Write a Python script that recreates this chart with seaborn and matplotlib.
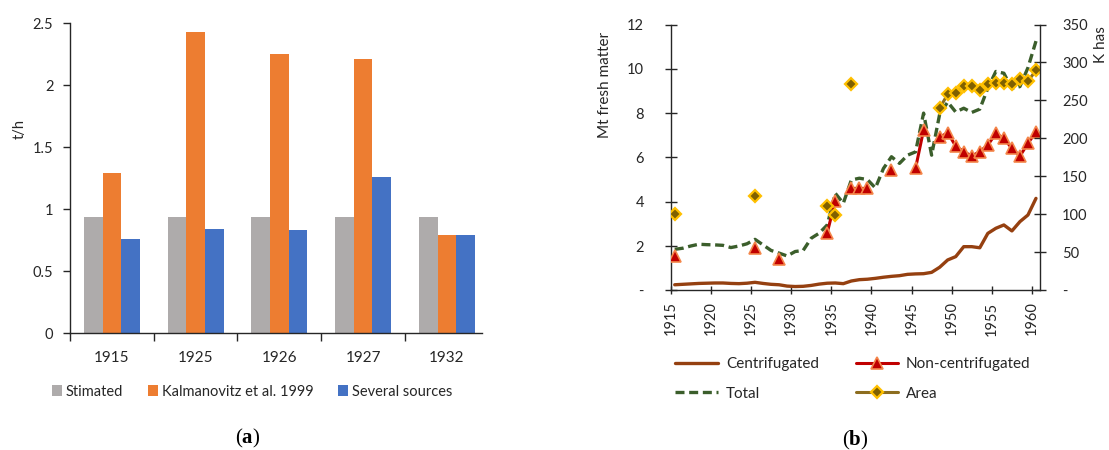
import numpy as np
import pandas as pd
import matplotlib
matplotlib.use("Agg")
import matplotlib.pyplot as plt
import seaborn as sns
from matplotlib.patches import Patch
from matplotlib.lines import Line2D

W, H = 1109, 450
nan = np.nan

# ---- (a) yields, t/h ----
yield_years = ["1915", "1925", "1926", "1927", "1932"]
stimated = [0.94, 0.94, 0.94, 0.94, 0.94]
kalmanovitz = [1.29, 2.43, 2.25, 2.21, 0.79]
several_sources = [0.76, 0.84, 0.83, 1.26, 0.79]
source_labels = ["Stimated", "Kalmanovitz et al. 1999", "Several sources"]

# ---- (b) production (Mt fresh matter) and area (K has) ----
years = list(range(1915, 1961))
centrifugated = [
    0.25, 0.27, 0.29, 0.31, 0.32, 0.33, 0.33, 0.31, 0.30, 0.32,
    0.36, 0.31, 0.27, 0.25, 0.19, 0.17, 0.18, 0.22, 0.28, 0.32,
    0.33, 0.30, 0.42, 0.48, 0.50, 0.54, 0.59, 0.63, 0.66, 0.72,
    0.74, 0.75, 0.81, 1.04, 1.37, 1.52, 1.97, 1.97, 1.92, 2.57,
    2.80, 2.95, 2.68, 3.10, 3.40, 4.15,
]
non_centrifugated = [
    1.55, nan, nan, nan, nan, nan, nan, nan, nan, nan,
    1.90, nan, nan, 1.41, nan, nan, nan, nan, nan, 2.60,
    4.05, nan, 4.60, 4.60, 4.60, nan, nan, 5.42, nan, nan,
    5.51, 7.24, nan, 6.90, 7.12, 6.51, 6.26, 6.06, 6.26, 6.56,
    7.08, 6.86, 6.41, 6.06, 6.64, 7.15,
]
total = [
    1.85, 1.90, 2.00, 2.08, 2.06, 2.05, 2.03, 1.93, 2.00, 2.10,
    2.30, 2.05, 1.80, 1.68, 1.55, 1.75, 1.80, 2.35, 2.58, 2.95,
    4.38, 3.93, 4.98, 5.06, 5.00, 4.62, 5.50, 6.03, 5.73, 6.10,
    6.25, 8.00, 6.10, 7.95, 8.50, 8.05, 8.22, 8.03, 8.18, 9.12,
    9.88, 9.80, 9.10, 9.20, 10.05, 11.25,
]
area = [
    100, nan, nan, nan, nan, nan, nan, nan, nan, nan,
    124, nan, nan, nan, nan, nan, nan, nan, nan, 111,
    99, nan, 272, nan, nan, nan, nan, nan, nan, nan,
    nan, nan, nan, 240, 258, 260, 269, 269, 264, 271,
    273, 273, 272, 278, 275, 290,
]
year_ticks = list(range(1915, 1961, 5))
production_ticks = [0, 2, 4, 6, 8, 10, 12]
area_ticks = [0, 50, 100, 150, 200, 250, 300, 350]
series_labels = ["Centrifugated", "Total", "Non-centrifugated", "Area"]

sns.set_theme(style="white")
plt.rcParams["font.family"] = ["Lato", "DejaVu Sans"]
plt.rcParams["mathtext.fontset"] = "custom"
plt.rcParams["mathtext.rm"] = "Liberation Serif"
plt.rcParams["mathtext.bf"] = "Liberation Serif:bold"

INK = "#262626"
BROWN = "#954010"
RED = "#C00000"
RED_EDGE = "#F4874B"
GREEN = "#3B5E2B"
OLIVE = "#8C6D1F"
OLIVE_DARK = "#7F6000"
GOLD = "#FFC000"
DASH = (2.7, 1.4)

fig = plt.figure(figsize=(W / 100, H / 100), dpi=100)


def px_axes(x0, y0, x1, y1):
    return fig.add_axes([x0 / W, 1 - y1 / H, (x1 - x0) / W, (y1 - y0) / H])


# ================= panel (a) =================
axa = px_axes(70, 23.3, 482, 333.3)
df_a = pd.DataFrame({
    "year": yield_years * 3,
    "value": stimated + kalmanovitz + several_sources,
    "source": [s for s in source_labels for _ in yield_years],
})
bar_colors = ["#AEABAB", "#ED7D31", "#4472C4"]
sns.barplot(data=df_a, x="year", y="value", hue="source", hue_order=source_labels,
            palette=bar_colors, saturation=1, width=0.667, linewidth=0,
            legend=False, ax=axa)
axa.set_xlim(-0.5, 4.42)
axa.set_ylim(0, 2.5)
axa.set_yticks(np.arange(0, 2.51, 0.5))
axa.set_yticklabels(["0", "0.5", "1", "1.5", "2", "2.5"])
axa.set_xticks(np.arange(-0.5, 4.0, 1), minor=True)
axa.tick_params(axis="x", which="major", length=0, pad=12.5, labelsize=11, labelcolor=INK)
axa.tick_params(axis="x", which="minor", length=6, width=1, color=INK,
                direction="out", bottom=True)
axa.tick_params(axis="y", length=5, width=1, color=INK, direction="out", left=True,
                pad=7, labelsize=10.5, labelcolor=INK)
axa.set_xlabel("")
axa.set_ylabel("t/h", fontsize=10.5, color=INK)
axa.yaxis.set_label_coords(-0.104, 0.66)
for s in ["top", "right"]:
    axa.spines[s].set_visible(False)
for s in ["left", "bottom"]:
    axa.spines[s].set_color(INK)
    axa.spines[s].set_linewidth(1)

handles_a = [Patch(facecolor=c, edgecolor="none") for c in bar_colors]
fig.legend(handles_a, source_labels, loc="center", bbox_to_anchor=(252 / W, 1 - 391.7 / H),
           ncol=3, frameon=False, fontsize=10.5, handlelength=0.7, handleheight=0.7,
           handletextpad=0.25, columnspacing=1.7, labelcolor=INK)

# ================= panel (b) =================
axb = px_axes(670.7, 24.5, 1040, 290.3)
df_b = pd.DataFrame({
    "year": years,
    "centrifugated": centrifugated,
    "non_centrifugated": non_centrifugated,
    "total": total,
    "area": area,
})
sns.lineplot(data=df_b, x="year", y="centrifugated", color=BROWN, lw=2.4, ax=axb)
sns.lineplot(data=df_b, x="year", y="total", color=GREEN, lw=2.4, ax=axb)
axb.lines[-1].set_dashes(DASH)
# isolated observations stay as lone markers, so draw this series with gaps kept
axb.plot(df_b["year"], df_b["non_centrifugated"], color=RED, lw=2.2, marker="^", ms=8,
         mfc=RED, mec=RED_EDGE, mew=1.2, zorder=3)

ax2 = axb.twinx()
ax2.plot(df_b["year"], df_b["area"], color=OLIVE, lw=2.2, marker="D", ms=6,
         mfc=OLIVE_DARK, mec=GOLD, mew=1.6)

axb.set_xlim(1914.5, 1960.5)
axb.set_ylim(0, 12)
ax2.set_ylim(0, 350)
axb.set_xticks([y - 0.5 for y in year_ticks])
axb.set_xticklabels([str(y) for y in year_ticks], rotation=90)
axb.set_yticks(production_ticks)
axb.set_yticklabels(["-" if v == 0 else str(v) for v in production_ticks])
ax2.set_yticks(area_ticks)
ax2.set_yticklabels(["-" if v == 0 else str(v) for v in area_ticks])
axb.set_xlabel("")
axb.set_ylabel("Mt fresh matter", fontsize=11, color=INK)
axb.yaxis.set_label_coords(-0.159, 0.772)
ax2.set_ylabel("K has", fontsize=11, color=INK)
ax2.yaxis.set_label_coords(1.145, 0.923)

axb.tick_params(axis="x", length=6, width=1, color=INK, direction="inout", bottom=True,
                pad=5, labelsize=10.5, labelcolor=INK)
axb.tick_params(axis="y", length=8.6, width=1, color=INK, direction="inout", left=True,
                pad=15, labelsize=10.5, labelcolor=INK)
ax2.tick_params(axis="y", length=8.6, width=1, color=INK, direction="inout", right=True,
                pad=11.5, labelsize=10.5, labelcolor=INK)
for s in ["top", "right"]:
    axb.spines[s].set_visible(False)
for s in ["top", "left", "bottom"]:
    ax2.spines[s].set_visible(False)
for sp in [axb.spines["left"], axb.spines["bottom"], ax2.spines["right"]]:
    sp.set_color(INK)
    sp.set_linewidth(1)

handles_b = [
    Line2D([], [], color=BROWN, lw=2.4),
    Line2D([], [], color=GREEN, lw=2.4, dashes=DASH),
    Line2D([], [], color=RED, lw=2.2, marker="^", ms=8, mfc=RED, mec=RED_EDGE, mew=1.2),
    Line2D([], [], color=OLIVE, lw=2.2, marker="D", ms=6, mfc=OLIVE_DARK, mec=GOLD, mew=1.6),
]
fig.legend(handles_b, series_labels, loc="center", bbox_to_anchor=(853 / W, 1 - 379 / H),
           ncol=2, frameon=False, fontsize=11, handlelength=2.8, handletextpad=0.5,
           columnspacing=2.4, labelspacing=1.0, labelcolor=INK)

# panel captions
fig.text(248 / W, 1 - 438 / H, r"($\mathbf{a}$)", ha="center", va="center",
         fontsize=15, family="Liberation Serif", color="black")
fig.text(855 / W, 1 - 440 / H, r"($\mathbf{b}$)", ha="center", va="center",
         fontsize=15, family="Liberation Serif", color="black")

fig.savefig("out.png", dpi=100)
